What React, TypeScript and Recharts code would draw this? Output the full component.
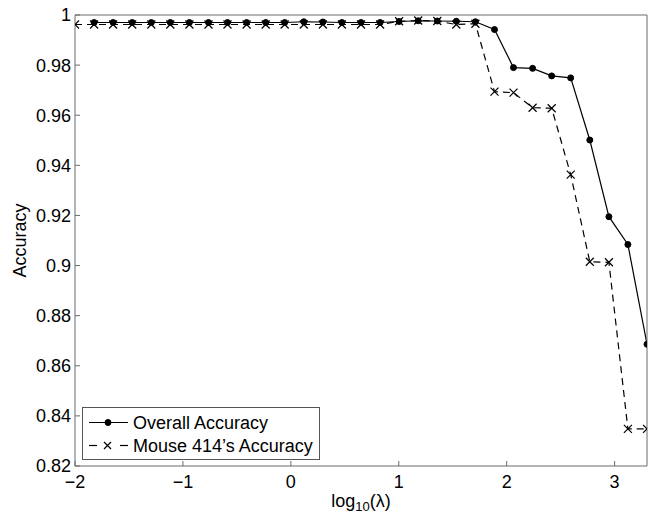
import { Line, LineChart, XAxis, YAxis } from "recharts";

// log10(lambda) sample points
const lambdaLog = [
  -2, -1.823, -1.647, -1.47, -1.293, -1.117, -0.94, -0.763, -0.587, -0.41, -0.233, -0.057, 0.12, 0.297, 0.473, 0.65,
  0.827, 1.003, 1.18, 1.357, 1.533, 1.71, 1.887, 2.063, 2.24, 2.417, 2.593, 2.77, 2.947, 3.123, 3.3
];

const overallAccuracy: (number | null)[] = [
  null, 0.997, 0.997, 0.997, 0.997, 0.997, 0.997, 0.997, 0.997, 0.997, 0.997, 0.997, 0.9973, 0.9972, 0.997, 0.997,
  0.997, 0.9974, 0.9977, 0.9976, 0.9975, 0.9973, 0.9942, 0.979, 0.9787, 0.9757, 0.9749, 0.9501, 0.9195, 0.9084, 0.8686
];

const mouseAccuracy = [
  0.9962, 0.9962, 0.9962, 0.9962, 0.9962, 0.9962, 0.9962, 0.9962, 0.9962, 0.9962, 0.9962, 0.9962, 0.9962, 0.9962,
  0.9962, 0.9962, 0.9962, 0.9975, 0.9978, 0.9976, 0.9962, 0.9965, 0.9694, 0.969, 0.963, 0.9628, 0.9363, 0.9015,
  0.9013, 0.8348, 0.8348
];

const seriesNames = ["Overall Accuracy", "Mouse 414’s Accuracy"];
const xTicks = [-2, -1, 0, 1, 2, 3];
const yTicks = [0.82, 0.84, 0.86, 0.88, 0.9, 0.92, 0.94, 0.96, 0.98, 1];

const data = lambdaLog.map((x, i) => ({ x, overall: overallAccuracy[i], mouse: mouseAccuracy[i] }));

const axisColor = "#6b6b6b";
const font = "'Liberation Sans', Arial, sans-serif";
const tickStyle = { fontSize: 18, fill: "#000", fontFamily: font };

function xTickLabel(value: number) {
  return value < 0 ? `\u2212${Math.abs(value)}` : String(value);
}

function yTickLabel(value: number) {
  return String(Number(value.toFixed(2)));
}

function CrossDot(props: { cx?: number; cy?: number; index?: number }) {
  const { cx, cy } = props;
  if (cx == null || cy == null) return <g />;
  return (
    <path
      d={`M${cx - 4},${cy - 4}L${cx + 4},${cy + 4}M${cx + 4},${cy - 4}L${cx - 4},${cy + 4}`}
      stroke="#000"
      strokeWidth={1.2}
      fill="none"
    />
  );
}

function XLabel(props: { viewBox?: { x: number; y: number; width: number; height: number } }) {
  const vb = props.viewBox ?? { x: 75, y: 466, width: 572, height: 49 };
  return (
    <text x={vb.x + vb.width / 2} y={vb.y + 41} textAnchor="middle" fontSize={18} fontFamily={font} fill="#000">
      log
      <tspan fontSize={13} dy={4}>
        10
      </tspan>
      <tspan dy={-4}>(λ)</tspan>
    </text>
  );
}

function YLabel(props: { viewBox?: { x: number; y: number; width: number; height: number } }) {
  const vb = props.viewBox ?? { x: 0, y: 15, width: 75, height: 451 };
  const cy = vb.y + vb.height / 2;
  return (
    <text x={26} y={cy} textAnchor="middle" fontSize={18} fontFamily={font} fill="#000" transform={`rotate(-90, 26, ${cy})`}>
      Accuracy
    </text>
  );
}

// legend drawn as an overlay so it doesn't shrink the plot
function LegendBox() {
  return (
    <svg width={238} height={53} style={{ position: "absolute", left: 82, top: 407, display: "block" }}>
      <rect x={0.5} y={0.5} width={237} height={52} fill="#fff" stroke="#555" strokeWidth={1} />
      {seriesNames.map((name, i) => {
        const cy = i === 0 ? 15.5 : 38.5;
        return (
          <g key={name}>
            {i === 1 ? (
              <>
                <line x1={7} x2={15} y1={cy} y2={cy} stroke="#000" strokeWidth={1.2} />
                <line x1={38} x2={46} y1={cy} y2={cy} stroke="#000" strokeWidth={1.2} />
                <path d={`M22,${cy - 3.5}L29,${cy + 3.5}M29,${cy - 3.5}L22,${cy + 3.5}`} stroke="#000" strokeWidth={1.2} />
              </>
            ) : (
              <>
                <line x1={7} x2={46} y1={cy} y2={cy} stroke="#000" strokeWidth={1.2} />
                <circle cx={26} cy={cy} r={3} fill="#000" stroke="#000" strokeWidth={1} />
              </>
            )}
            <text x={51} y={cy + 6.5} fontSize={18} fontFamily={font} fill="#000">
              {name}
            </text>
          </g>
        );
      })}
    </svg>
  );
}

export default function App() {
  return (
    <div style={{ position: "absolute", left: 0, top: 0, width: 649, height: 515, background: "#fff" }}>
      <LineChart width={649} height={515} data={data} margin={{ top: 0, right: 0, left: 0, bottom: 0 }}>
        <XAxis
          dataKey="x"
          type="number"
          domain={[-2, 3.3]}
          ticks={xTicks}
          height={49}
          stroke={axisColor}
          tickSize={-5}
          tickMargin={14}
          tick={tickStyle}
          tickFormatter={xTickLabel}
          label={<XLabel />}
          allowDataOverflow
        />
        <XAxis
          xAxisId="top"
          orientation="top"
          type="number"
          dataKey="x"
          domain={[-2, 3.3]}
          ticks={xTicks}
          height={15}
          stroke={axisColor}
          tickSize={-5}
          tick={false}
          allowDataOverflow
        />
        <YAxis
          type="number"
          domain={[0.82, 1]}
          ticks={yTicks}
          width={75}
          stroke={axisColor}
          tickSize={-5}
          tickMargin={9}
          tick={tickStyle}
          tickFormatter={yTickLabel}
          label={<YLabel />}
          allowDataOverflow
        />
        <YAxis
          yAxisId="right"
          orientation="right"
          type="number"
          domain={[0.82, 1]}
          ticks={yTicks}
          width={2}
          stroke={axisColor}
          tickSize={-5}
          tick={false}
          allowDataOverflow
        />
        <Line
          dataKey="overall"
          name={seriesNames[0]}
          stroke="#000"
          strokeWidth={1.2}
          dot={{ r: 3, fill: "#000", stroke: "#000", strokeWidth: 1 }}
          isAnimationActive={false}
        />
        <Line
          dataKey="mouse"
          name={seriesNames[1]}
          stroke="#000"
          strokeWidth={1.2}
          strokeDasharray="7 5"
          dot={(p: { cx?: number; cy?: number; index?: number }) => <CrossDot key={`m-${p.index}`} {...p} />}
          isAnimationActive={false}
        />
      </LineChart>
      <LegendBox />
    </div>
  );
}
